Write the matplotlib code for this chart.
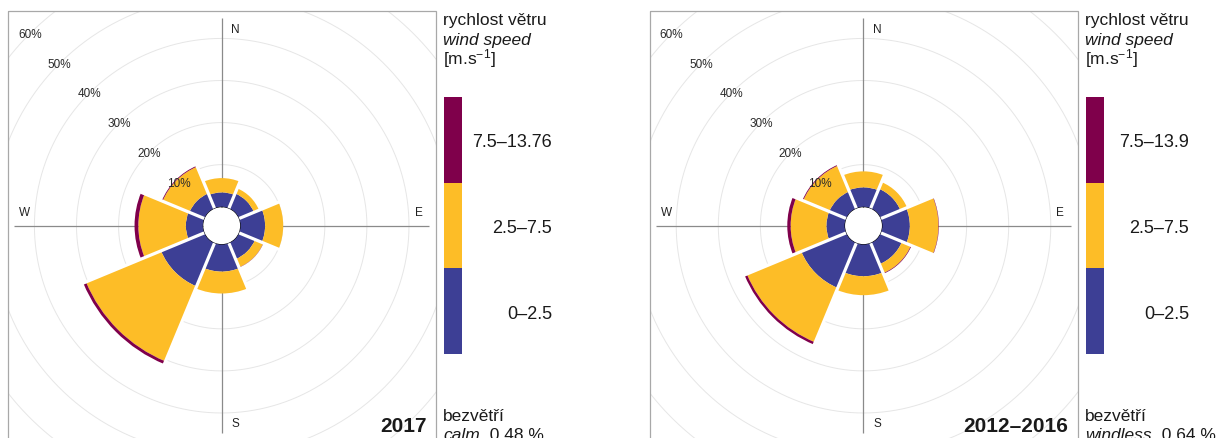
import numpy as np
import matplotlib
matplotlib.use('Agg')
import matplotlib.pyplot as plt
from matplotlib.patches import Rectangle
from matplotlib.lines import Line2D
from matplotlib.patches import Patch

plt.rcParams['font.family'] = ['Liberation Sans', 'DejaVu Sans']
plt.rcParams['mathtext.fontset'] = 'custom'
plt.rcParams['mathtext.rm'] = 'Liberation Sans'
plt.rcParams['mathtext.it'] = 'Liberation Sans:italic'

# ---------------- data ----------------
directions = ['N', 'NE', 'E', 'SE', 'S', 'SW', 'W', 'NW']
dir_degrees = [0, 45, 90, 135, 180, 225, 270, 315]
speed_colors = ['#3d3f95', '#fdbd27', '#7f004b']   # 0-2.5, 2.5-7.5, 7.5-max

# 2017: frequency [%] per direction and speed class
y2017_low = [3.4, 3.8, 5.8, 4.1, 6.4, 11.1, 4.0, 3.8]
y2017_mid = [3.4, 1.3, 4.3, 2.1, 5.2, 19.3, 11.3, 6.9]
y2017_high = [0.0, 0.0, 0.0, 0.05, 0.0, 0.7, 0.9, 0.2]
labels2017 = ['0–2.5', '2.5–7.5', '7.5–13.76']

# 2012-2016
y1216_low = [4.6, 5.0, 6.5, 5.4, 7.5, 11.5, 4.3, 4.3]
y1216_mid = [3.8, 1.7, 6.8, 2.3, 4.5, 14.0, 8.5, 6.7]
y1216_high = [0.0, 0.0, 0.1, 0.15, 0.0, 0.6, 0.8, 0.2]
labels1216 = ['0–2.5', '2.5–7.5', '7.5–13.9']

ring_pcts = [10, 20, 30, 40, 50, 60]

# ---------------- layout ----------------
W, H = 1217, 439
SCALE = 4.207     # px per percent
HOLE = 19.0       # px radius of the inner hole
R_MAX = 70.0

fig = plt.figure(figsize=(W / 100, H / 100), dpi=100)
fig.patch.set_facecolor('white')


def fx(px):
    return px / W


def fy(py):
    return (H - py) / H


over = fig.add_axes([0, 0, 1, 1])
over.set_xlim(0, W)
over.set_ylim(H, 0)
over.axis('off')
over.set_zorder(10)


def draw_panel(cx, cy, low, mid, high, labels, year, calm_word, calm_val, lab_x):
    r_px = HOLE + R_MAX * SCALE
    ax = fig.add_axes([fx(cx - r_px), fy(cy + r_px), 2 * r_px / W, 2 * r_px / H],
                      projection='polar')
    ax.set_autoscale_on(False)
    ax.set_theta_zero_location('N')
    ax.set_theta_direction(-1)
    ax.set_ylim(0, R_MAX)
    ax.set_rorigin(-HOLE / SCALE)
    ax.patch.set_visible(False)
    for sp in ax.spines.values():
        sp.set_visible(False)
    ax.set_xticks([])
    ax.set_yticks([])
    ax.grid(False)

    # grid rings
    tt = np.linspace(0, 2 * np.pi, 721)
    for r in ring_pcts:
        ax.plot(tt, np.full_like(tt, r), color='#e6e6e6', lw=0.7, zorder=1)
    # compass lines
    for d in [0, 90, 180, 270]:
        ax.plot([np.deg2rad(d)] * 2, [0, 44.8], color='#8a8a8a', lw=0.9, zorder=2,
                solid_capstyle='butt')

    theta = np.deg2rad(dir_degrees)
    width = np.deg2rad(45)
    low = np.array(low)
    mid = np.array(mid)
    high = np.array(high)
    ax.bar(theta, low, width=width, bottom=0, color=speed_colors[0], linewidth=0, zorder=3)
    ax.bar(theta, mid, width=width, bottom=low, color=speed_colors[1], linewidth=0, zorder=3)
    ax.bar(theta, high, width=width, bottom=low + mid, color=speed_colors[2], linewidth=0, zorder=3)
    total = low + mid + high
    # white separators between wedges
    for k in range(len(theta)):
        b = theta[k] + width / 2
        L = max(total[k], total[(k + 1) % len(theta)]) + 0.3
        ax.plot([b, b], [0, L], color='white', lw=2.3, solid_capstyle='butt', zorder=4)

    # clip everything to the panel frame
    box_l, box_r, box_t, box_b = cx - 213.4, cx + 214.0, 12.3, cy + 216
    clip = Rectangle((fx(box_l), fy(box_b)), (box_r - box_l) / W, (box_b - box_t) / H,
                     transform=fig.transFigure)
    for a in ax.get_children():
        if isinstance(a, (Line2D, Patch)) and a is not ax.patch:
            a.set_clip_path(clip)

    # percent labels
    for r in ring_pcts:
        ax.text(np.deg2rad(315), r, f'{r}%', ha='center', va='center', fontsize=8.5,
                color='#2a2a2a', zorder=6)
    # compass labels
    for lab, d in zip(['N', 'E', 'S', 'W'], [4.1, 85.9, 175.9, 274.1]):
        ax.text(np.deg2rad(d), 42.4, lab, ha='center', va='center', fontsize=8.5,
                color='#222222', zorder=6)

    # frame
    over.add_patch(Rectangle((box_l, box_t), box_r - box_l, box_b - box_t, fill=False,
                             edgecolor='#a8a8a8', lw=0.9))
    # year
    over.text(box_r - 9, 432, year, ha='right', va='baseline', fontsize=15,
              fontweight='bold', color='#1a1a1a')

    # legend
    lx = cx + 221.6
    over.text(lx, 25.5, 'rychlost větru', fontsize=12.5, va='baseline', color='#1a1a1a')
    over.text(lx, 45, 'wind speed', fontsize=12.5, va='baseline', style='italic',
              color='#1a1a1a')
    over.text(lx, 64, r'[m.s$^{-1}$]', fontsize=12.5, va='baseline', color='#1a1a1a')

    cb = fig.add_axes([fx(cx + 222.3), fy(355), 18 / W, 257 / H])
    cb.bar([0, 0, 0], [1, 1, 1], bottom=[0, 1, 2], width=1, color=speed_colors, linewidth=0)
    cb.set_xlim(-0.5, 0.5)
    cb.set_ylim(0, 3)
    cb.axis('off')
    for i, lab in enumerate(labels):
        cb.text(lab_x, i + 0.5, lab, transform=cb.get_yaxis_transform(), ha='right',
                va='center_baseline', fontsize=13, color='#1a1a1a')

    over.text(lx, 421.5, 'bezvětří', fontsize=12.5, va='baseline', color='#1a1a1a')
    t1 = over.text(lx, 440.5, calm_word, fontsize=12.5, va='baseline', style='italic',
                   color='#1a1a1a')
    over.annotate('  ' + calm_val, xy=(1, 0), xycoords=t1, ha='left', va='bottom',
                  fontsize=12.5, color='#1a1a1a')


draw_panel(221.7, 226.7, y2017_low, y2017_mid, y2017_high, labels2017, '2017', 'calm',
           '0.48 %', 6.0)
draw_panel(863.5, 226.7, y1216_low, y1216_mid, y1216_high, labels1216, '2012–2016',
           'windless', '0.64 %', 5.75)

fig.savefig('out.png', dpi=100, facecolor='white')
